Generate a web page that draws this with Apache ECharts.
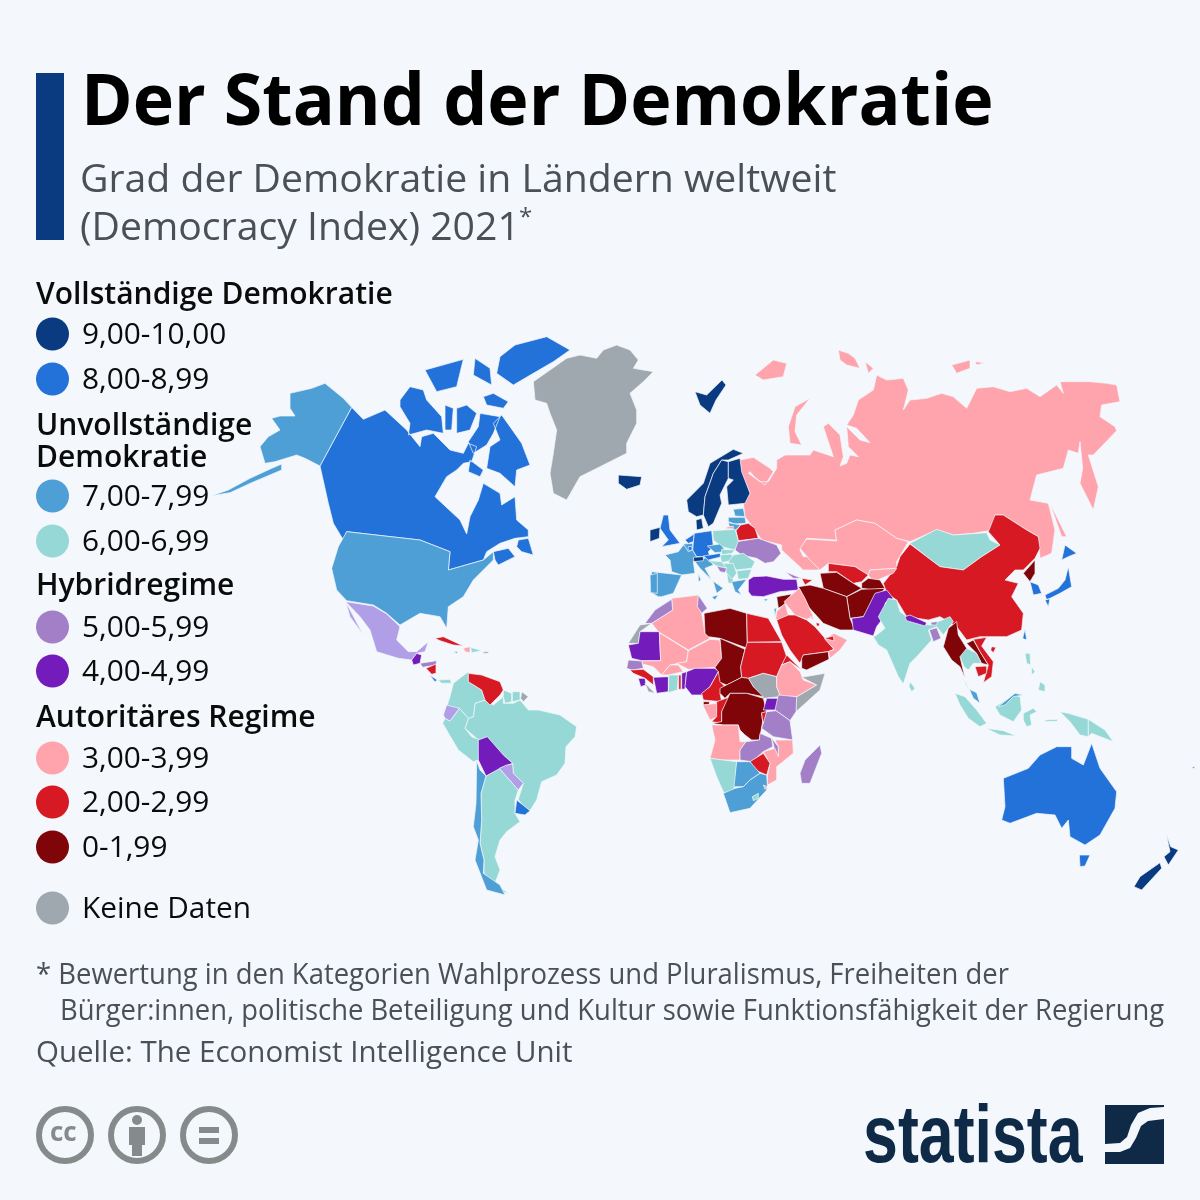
<!DOCTYPE html>
<html>
<head>
<meta charset="utf-8">
<script src="https://cdn.jsdelivr.net/npm/echarts@6/dist/echarts.min.js"></script>
<style>
  html, body { margin: 0; padding: 0; background: #f4f8fc; }
  #main { width: 1200px; height: 1200px; }
</style>
</head>
<body>
<div id="main"></div>
<script>
// Democracy Index 2021, values
var northAmericaNames = ['Kanada', 'USA', 'Mexiko', 'Guatemala', 'Honduras', 'Nicaragua', 'Costa Rica', 'Panama', 'Kuba', 'Haiti', 'Dominikanische Republik', 'Jamaika'];
var northAmericaScores = [8.87, 7.85, 5.57, 4.62, 5.1, 2.69, 8.07, 6.85, 2.59, 3.48, 6.45, 7.13];
var southAmericaNames = ['Kolumbien', 'Ecuador', 'Peru', 'Brasilien', 'Venezuela', 'Guyana', 'Suriname', 'Bolivien', 'Paraguay', 'Uruguay', 'Chile', 'Argentinien'];
var southAmericaScores = [6.48, 5.71, 6.09, 6.86, 2.11, 6.25, 6.82, 4.51, 5.86, 8.85, 7.92, 6.81];
var europeNames = ['Norwegen', 'Schweden', 'Finnland', 'Island', 'Dänemark', 'Irland', 'Schweiz', 'Großbritannien', 'Deutschland', 'Niederlande', 'Österreich', 'Frankreich', 'Belgien', 'Luxemburg', 'Spanien', 'Portugal', 'Italien', 'Griechenland', 'Zypern', 'Tschechien', 'Slowakei', 'Ungarn', 'Polen', 'Rumänien', 'Bulgarien', 'Serbien', 'Nordmazedonien', 'Kroatien', 'Bosnien', 'Estland', 'Lettland', 'Litauen', 'Ukraine', 'Belarus', 'Türkei', 'Georgien', 'Aserbaidschan'];
var europeScores = [9.75, 9.26, 9.27, 9.18, 9.09, 9.0, 9.03, 8.1, 8.67, 8.88, 8.07, 7.99, 7.51, 8.68, 7.94, 7.82, 7.68, 7.56, 7.43, 7.74, 6.66, 6.5, 6.8, 6.43, 6.64, 6.36, 6.03, 6.5, 5.04, 7.84, 7.31, 7.18, 5.4, 2.41, 4.35, 5.12, 2.68];
var asiaNames = ['Russland', 'Kasachstan', 'Mongolei', 'China', 'Taiwan', 'Kirgisistan', 'Tadschikistan', 'Usbekistan', 'Turkmenistan', 'Afghanistan', 'Iran', 'Pakistan', 'Indien', 'Nepal', 'Bhutan', 'Bangladesch', 'Sri Lanka', 'Myanmar', 'Thailand', 'Laos', 'Vietnam', 'Kambodscha', 'Nordkorea', 'Südkorea', 'Japan', 'Malaysia', 'Indonesien', 'Philippinen', 'Syrien', 'Irak', 'Jordanien', 'Israel', 'Saudi-Arabien', 'Jemen', 'Oman', 'VAE', 'Katar', 'Kuwait'];
var asiaScores = [3.24, 3.08, 6.35, 2.21, 8.99, 3.62, 1.94, 2.12, 1.66, 0.32, 1.95, 4.31, 6.91, 4.41, 5.4, 5.4, 6.14, 1.02, 6.04, 1.77, 2.94, 2.9, 1.08, 8.16, 8.15, 7.24, 6.71, 6.62, 1.43, 3.51, 3.49, 7.97, 2.08, 1.95, 3.0, 2.9, 2.6, 3.91];
var africaNames = ['Marokko', 'Algerien', 'Tunesien', 'Libyen', 'Ägypten', 'Mauretanien', 'Mali', 'Niger', 'Tschad', 'Sudan', 'Eritrea', 'Äthiopien', 'Senegal', 'Guinea', 'Sierra Leone', 'Elfenbeinküste', 'Burkina Faso', 'Ghana', 'Togo', 'Benin', 'Nigeria', 'Kamerun', 'Zentralafrika', 'Äquatorialguinea', 'Gabun', 'Kongo', 'DR Kongo', 'Ruanda', 'Uganda', 'Kenia', 'Tansania', 'Angola', 'Sambia', 'Malawi', 'Mosambik', 'Simbabwe', 'Namibia', 'Botswana', 'Südafrika', 'Lesotho', 'Eswatini', 'Madagaskar'];
var africaScores = [5.04, 3.77, 5.4, 1.95, 2.93, 4.03, 3.48, 3.22, 1.67, 2.47, 2.03, 3.3, 5.4, 2.28, 4.97, 4.22, 3.84, 6.5, 2.8, 4.19, 4.11, 2.56, 1.43, 1.92, 3.4, 2.79, 1.4, 2.8, 4.94, 5.05, 5.1, 3.37, 5.4, 5.4, 3.51, 2.92, 6.52, 7.73, 7.05, 6.3, 3.08, 5.4];
var oceaniaNames = ['Australien', 'Neuseeland', 'Papua-Neuguinea', 'Fidschi'];
var oceaniaScores = [8.9, 9.37, 6.1, 5.4];

// legend
var bandHeads = ['Vollständige Demokratie', 'Unvollständige\nDemokratie', 'Hybridregime', 'Autoritäres Regime'];
var bandLabels = ['9,00-10,00', '8,00-8,99', '7,00-7,99', '6,00-6,99', '5,00-5,99', '4,00-4,99', '3,00-3,99', '2,00-2,99', '0-1,99', 'Keine Daten'];
var bandColors = ['#0a3a80', '#2272d9', '#4d9fd6', '#96d8d5', '#a27fc6', '#741bbb', '#ffa4ad', '#d71923', '#7f0509', '#9fa7af'];

var title = 'Der Stand der Demokratie';
var subtitle = ['Grad der Demokratie in Ländern weltweit', '(Democracy Index) 2021'];
var footnote = ['* Bewertung in den Kategorien Wahlprozess und Pluralismus, Freiheiten der', 'Bürger:innen, politische Beteiligung und Kultur sowie Funktionsfähigkeit der Regierung'];
var source = 'Quelle: The Economist Intelligence Unit';

// base map outlines, traced in crop coordinates: name, crop origin, rings (3 units per pixel)
var A = [200, 330], S = [400, 640], E = [620, 440], F = [620, 590], R = [740, 340], O = [760, 560], P = [960, 680];
var outlines = [
  ['Russland', R, [0,360,40,352,90,385,100,395,75,435,45,412,30,395,25,400,60,425,85,425,110,385,110,360,135,345,210,345,220,330,280,350,250,260,265,250,300,285,310,350,300,378,320,370,330,345,355,350,325,320,320,260,360,300,390,308,350,265,320,255,340,225,355,180,400,150,410,105,440,120,490,115,505,150,490,210,510,180,560,175,605,160,640,170,680,205,710,145,760,140,810,155,860,145,900,170,950,135,970,160,960,125,1050,125,1100,130,1130,135,1140,185,1085,195,1080,230,1125,260,1130,272,1060,345,1045,345,1075,440,1060,510,1020,430,1028,385,1020,305,1015,340,985,330,970,385,890,405,870,480,925,490,945,570,935,640,900,655,895,590,860,570,790,525,765,525,760,570,700,580,640,585,590,570,510,605,470,595,405,550,350,540,285,570,290,600,200,595,180,630,190,650,205,650,240,690,190,690,125,630,125,615,65,600,45,570,15,530,10,490,30,460,5,400],
    [210,175,170,225,165,275,185,315,150,310,145,260,165,200], [45,105,100,60,140,70,130,110,70,120], [295,30,325,40,345,55,360,85,320,75,300,60], [375,65,400,85,385,100], [635,75,690,60,690,85,650,100], [705,65,735,68,710,75], [930,490,980,590,965,590]],
  ['Kasachstan', R, [180,625,200,597,290,603,285,570,350,540,405,550,470,595,505,605,470,665,470,685,390,690,385,705,345,680,265,670,240,690,210,660]],
  ['Kanada', A, [455,232,490,268,555,240,620,300,660,350,665,320,700,310,750,360,790,370,805,340,830,350,815,395,790,400,770,420,740,440,705,500,780,570,800,612,810,560,835,510,850,460,900,490,905,525,945,500,950,570,985,600,985,620,945,625,900,640,860,665,850,690,745,720,750,665,660,630,440,605,430,630,400,580,385,520,360,408],
    [630,170,670,180,680,210,725,260,730,310,680,300,625,315,630,280,600,230,600,210],
    [735,225,760,235,755,300,735,300],
    [770,235,800,225,830,250,810,300,770,310],
    [840,250,900,260,880,310,860,345,820,370,805,335,835,290],
    [905,255,930,290,965,340,990,405,950,420,945,470,900,430,860,415,870,350,900,330,880,280],
    [945,45,1040,20,1110,60,1060,95,1000,130,940,165,890,130,900,80],
    [675,120,790,88,770,170,710,185],
    [825,85,870,115,875,165,820,135],
    [850,200,880,190,925,215,910,235,860,225],
    [810,390,850,420,840,440,805,425],
    [955,630,985,625,1000,675,965,665,950,650],
    [880,665,925,655,945,680,895,705,885,690]],
  ['Grönland', A, [1000,155,1100,85,1140,75,1190,85,1210,60,1250,45,1290,60,1315,90,1300,115,1360,125,1330,155,1290,190,1310,240,1310,280,1280,340,1280,370,1200,410,1140,440,1100,510,1060,490,1050,430,1060,370,1070,300,1050,250,1040,220,1005,210]],
  ['Alaska', A, [455,232,430,205,375,160,335,175,270,190,270,235,285,258,240,258,215,265,240,300,205,320,180,350,195,400,225,395,290,375,315,385,360,408],
    [245,402,215,415,150,445,85,480,35,497,90,488,155,458,245,420]],
  ['USA', A, [440,605,660,630,750,665,745,720,850,690,880,665,880,690,820,750,790,800,745,830,740,895,720,860,660,850,600,885,560,850,520,825,440,812,410,780,395,715,415,650]],
  ['Mexiko', A, [437,815,520,828,560,852,600,890,590,930,625,965,650,965,685,935,675,965,650,970,635,990,595,985,530,965,510,900,480,860], [437,815,490,915,450,860]],
  ['Guatemala', A, [635,990,650,970,665,975,660,1000,640,1005]],
  ['Honduras', S, [60,70,110,62,108,75,68,82]],
  ['Nicaragua', S, [78,85,108,72,108,100,95,103]],
  ['Costa Rica', S, [88,105,112,120,105,125]],
  ['Panama', S, [115,120,150,118,155,130,125,130]],
  ['Kuba', A, [705,925,730,920,790,948,760,945,720,932]],
  ['Jamaika', A, [758,965,775,965,770,970]],
  ['Haiti', A, [790,955,810,950,810,968,795,965]],
  ['Dominikanische Republik', A, [812,952,845,962,815,968]],
  ['Puerto Rico', A, [850,965,865,965,865,970,850,970]],

  ['Brasilien', S, [310,190,340,190,360,180,385,210,415,210,480,225,530,260,525,290,498,320,495,370,470,405,425,425,410,480,385,520,355,478,370,430,340,400,338,370,310,345,235,300,195,265,205,235,220,230,225,190,255,180,280,195,310,170]],
  ['Kolumbien', S, [160,130,205,95,205,125,245,150,255,180,225,190,220,230,205,235,178,205,140,200,150,170]],
  ['Peru', S, [128,250,135,235,150,243,178,205,205,235,195,265,215,290,240,300,235,360,220,365,175,330]],
  ['Ecuador', S, [130,225,140,195,178,205,150,243,135,235]],
  ['Venezuela', S, [205,100,245,105,300,125,310,150,300,165,270,195,255,180,245,150,205,125]],
  ['Guyana', S, [310,150,335,160,335,185,315,190,310,170]],
  ['Suriname', S, [337,155,360,155,360,180,337,185]],
  ['Französisch-Guayana', S, [365,155,385,170,370,185,362,175]],
  ['Argentinien', S, [258,408,298,385,355,450,345,480,345,520,360,545,320,575,300,600,285,650,300,690,285,730,252,700,252,660,240,610,245,540,243,460], [290,735,325,760,300,755]],
  ['Bolivien', S, [235,300,262,290,310,345,338,370,300,385,258,408,235,360]],
  ['Paraguay', S, [298,385,320,375,338,372,340,400,370,430,355,450,320,410]],
  ['Uruguay', S, [350,480,390,512,375,525,345,520]],
  ['Chile', S, [230,362,240,390,258,408,243,460,245,540,240,610,252,660,250,700,300,735,315,765,260,750,225,660,235,600,220,560,228,490]],

  ['Norwegen', E, [200,180,250,130,270,70,340,28,370,40,325,60,305,60,280,100,255,170,250,225,230,230,205,215]],
  ['Svalbard', A, [1485,185,1520,195,1566,150,1578,165,1548,210,1530,250,1500,225]],
  ['Schweden', E, [255,170,280,100,305,60,325,65,325,115,300,165,305,190,280,250,265,260,250,225]],
  ['Finnland', E, [325,65,360,55,365,95,390,160,375,190,325,195,320,140,340,120,325,115]],
  ['Island', A, [1255,435,1325,440,1320,465,1280,478,1255,460]],
  ['Dänemark', E, [228,240,245,235,250,265,230,270]],
  ['Estland', E, [340,208,370,205,375,230,345,228]],
  ['Lettland', E, [325,232,375,232,378,250,345,252,325,245]],
  ['Litauen', E, [325,248,345,252,362,255,345,272,330,265]],
  ['Kaliningrad', E, [318,262,340,258,340,266,320,266]],
  ['Belarus', E, [362,255,385,250,405,265,415,295,355,302,348,272]],
  ['Ukraine', E, [350,305,415,295,470,315,483,340,460,365,435,370,410,355,365,345,345,330]],
  ['Polen', E, [278,272,345,268,355,302,345,330,305,320,280,300]],
  ['Frankreich', E, [190,315,218,330,230,350,220,365,225,400,185,405,155,395,150,360,135,345,175,335]],
  ['Deutschland', E, [222,280,275,272,280,320,265,335,270,350,230,350,218,330]],
  ['Niederlande', E, [195,300,222,282,220,305,205,310]],
  ['Belgien', E, [190,312,218,310,218,330,205,335]],
  ['Luxemburg', E, [205,320,215,320,217,328,210,332,204,328]],
  ['Großbritannien', E, [130,225,145,225,150,270,180,310,125,320,145,300,120,265]],
  ['Irland', E, [90,270,120,262,118,295,90,305]],
  ['Spanien', E, [95,395,185,405,160,460,125,470,115,470,90,455]],
  ['Portugal', E, [90,405,112,400,112,460,92,458]],
  ['Italien', E, [225,365,265,350,280,375,255,385,275,420,310,445,290,460,280,425,240,385], [275,470,295,465,285,480], [235,400,243,420,235,425]],
  ['Schweiz', E, [220,352,250,350,250,362,222,365]],
  ['Österreich', E, [250,348,300,340,305,350,265,360]],
  ['Tschechien', E, [262,318,300,312,320,335,285,338]],
  ['Slowakei', E, [305,328,345,330,335,340,305,345]],
  ['Ungarn', E, [300,345,335,342,340,360,305,368]],
  ['Rumänien', E, [340,345,370,340,405,365,395,385,350,390,325,365]],
  ['Bulgarien', E, [350,392,395,388,385,415,355,418]],
  ['Serbien', E, [310,370,340,370,350,400,335,420,320,400]],
  ['Kroatien', E, [265,362,305,365,320,385,290,378]],
  ['Bosnien', E, [290,378,320,385,315,398,300,395]],
  ['Nordmazedonien', E, [320,400,340,420,345,430,325,430]],
  ['Griechenland', E, [335,425,380,418,355,450,365,465,345,455]],
  ['Zypern', E, [430,478,445,476,438,484]],
  ['Türkei', E, [385,420,400,410,440,408,490,418,530,418,535,450,480,455,430,470,395,468,385,455]],
  ['Georgien', O, [75,35,125,55,100,55]],
  ['Aserbaidschan', O, [125,55,158,60,135,75]],

  ['Mongolei', R, [510,610,590,568,640,585,740,578,750,600,780,615,725,650,670,690,600,680,560,650]],
  ['China', R, [430,730,470,680,480,650,510,612,560,650,600,680,670,690,725,650,780,615,745,575,765,525,790,525,860,570,895,590,900,625,885,655,850,690,825,690,795,720,835,730,815,770,850,820,845,870,800,890,720,890,680,900,650,860,600,830,565,840,500,830,470,780,440,760]],
  ['Hainan', O, [695,260,708,262,700,278,692,270]],
  ['Taiwan', O, [795,208,800,240,788,235]],
  ['Kirgisistan', R, [390,690,470,685,460,700,400,725,385,705]],
  ['Usbekistan', R, [265,670,345,680,385,705,365,725,340,730,290,695,265,695]],
  ['Turkmenistan', R, [240,700,290,697,340,730,365,745,320,770,250,745]],
  ['Tadschikistan', R, [365,730,385,715,420,720,435,745,400,750,365,745]],
  ['Afghanistan', R, [320,770,365,748,435,745,400,790,370,830,330,835]],
  ['Iran', R, [175,740,210,735,250,745,320,770,330,835,345,870,300,870,250,850,205,800]],
  ['Pakistan', R, [335,835,370,830,405,760,440,750,460,775,435,790,440,820,410,860,400,888,340,870]],
  ['Indien', O, [340,230,350,225,375,205,355,170,385,115,410,120,420,155,470,190,510,195,570,170,580,185,550,225,530,200,505,210,515,240,470,290,450,310,430,372,415,350,380,270,355,255]],
  ['Nepal', O, [435,170,450,165,500,188,495,198,440,182]],
  ['Bhutan', O, [512,187,532,185,530,195,515,195]],
  ['Bangladesch', O, [508,210,530,203,543,235,520,245]],
  ['Sri Lanka', O, [450,365,465,385,455,395,447,380]],
  ['Thailand', O, [600,265,620,265,650,280,665,310,640,310,625,330,612,320,600,290], [610,355,630,390,618,375]],
  ['Myanmar', O, [565,205,590,185,595,225,620,265,600,290,615,355,600,320,575,300,550,260]],
  ['Laos', O, [620,250,640,240,660,275,685,315,665,310,650,280]],
  ['Vietnam', O, [640,238,680,232,665,258,700,305,695,350,670,368,685,315,660,275]],
  ['Kambodscha', O, [645,320,680,318,680,340,655,350]],
  ['Nordkorea', R, [885,660,885,700,870,725,850,700]],
  ['Südkorea', R, [870,725,895,735,905,760,880,765]],
  ['Japan', R, [975,615,1010,640,985,650,965,660], [985,680,995,740,960,760,920,780,915,765,955,745,975,720], [915,780,930,775,925,800]],
  ['Indonesien', O, [705,440,765,405,780,410,785,450,760,485,720,465], [585,400,615,410,650,450,680,490,660,500,625,475,600,435], [678,505,730,512,770,528,720,525], [790,460,820,445,830,455,810,465,815,495,800,500,790,480]],
  ['Indonesien', P, [300,95,325,100,385,118,385,170,360,165,330,125], [255,120,295,118,290,124,255,125]],
  ['Malaysia', O, [628,388,650,398,660,430,640,415], [715,440,765,400,790,405,760,410,735,435]],
  ['Philippinen', O, [795,280,810,280,812,315,800,310], [840,365,855,375,855,395,835,390], [815,320,825,335,815,345]],
  ['Papua-Neuguinea', P, [385,118,435,150,460,185,395,160,385,170]],
  ['Australien', P, [130,295,205,265,240,225,290,200,335,200,335,235,370,255,395,190,420,265,470,335,465,385,420,465,375,495,330,470,325,420,305,445,285,405,230,400,150,430,125,420,135,380], [358,525,390,525,375,558,360,560]],
  ['Neuseeland', P, [620,465,632,500,655,510,625,555,612,530,630,515], [600,548,605,565,545,630,522,620,540,590]],
  ['Fidschi', P, [695,262,705,258,703,267]],

  ['Algerien', F, [95,100,158,60,155,25,235,15,245,70,255,130,270,145,205,180,115,125]],
  ['Marokko', F, [105,60,155,28,158,60,95,100,75,100]],
  ['Westsahara', F, [25,160,60,105,95,100,60,125,55,160]],
  ['Tunesien', F, [235,15,262,55,250,65,245,70,232,50]],
  ['Libyen', F, [252,70,330,55,380,70,382,175,300,145,265,140,255,130]],
  ['Ägypten', F, [380,70,445,85,485,155,382,157]],
  ['Mauretanien', F, [25,165,55,160,60,125,118,125,122,212,65,212,35,205]],
  ['Mali', F, [118,128,205,182,200,215,150,225,125,255,100,230,68,222,65,213,122,212]],
  ['Niger', F, [205,182,270,148,300,150,305,205,285,232,205,238,170,220,200,215]],
  ['Tschad', F, [300,145,375,178,362,230,365,262,320,285,295,275,290,240,285,232,305,205]],
  ['Sudan', F, [382,157,485,157,500,200,485,225,470,260,430,250,385,265,365,262,362,230,375,178]],
  ['Eritrea', F, [500,195,545,240,510,215,485,225]],
  ['Südsudan', F, [385,265,430,250,470,260,470,290,482,320,430,325,400,290]],
  ['Äthiopien', F, [485,225,510,215,540,245,550,270,590,285,530,320,482,320,470,290,470,260]],
  ['Somalia', F, [545,262,615,250,600,300,528,365,528,322,590,285]],
  ['Senegal', F, [25,210,65,213,70,235,35,240,20,235]],
  ['Guinea', F, [30,240,70,238,100,260,100,285,75,265,40,250]],
  ['Sierra Leone', F, [55,265,75,265,78,285,62,290]],
  ['Liberia', F, [75,280,105,310,85,305]],
  ['Elfenbeinküste', F, [100,262,145,260,145,305,110,310]],
  ['Burkina Faso', F, [125,255,150,225,175,225,190,245,145,255]],
  ['Ghana', F, [147,255,175,255,172,300,145,308]],
  ['Togo', F, [176,255,183,255,183,298,176,298]],
  ['Benin', F, [185,250,200,245,195,297,185,298]],
  ['Nigeria', F, [200,245,225,235,285,235,295,245,270,290,245,315,215,315,195,290]],
  ['Kamerun', F, [295,245,300,275,320,295,300,310,305,335,250,330,245,310,270,290]],
  ['Zentralafrika', F, [300,295,365,262,385,265,400,290,430,320,380,310,330,310,315,325,300,310]],
  ['Äquatorialguinea', F, [250,335,268,335,268,345,250,345]],
  ['Gabun', F, [248,345,290,340,293,380,270,390]],
  ['Kongo', F, [290,335,330,320,305,365,305,400,275,395,290,380]],
  ['DR Kongo', F, [330,310,380,310,430,325,440,365,425,370,428,395,418,450,395,450,375,435,360,420,355,405,310,405,275,400,305,395,305,365]],
  ['Ruanda', F, [425,368,440,365,440,395,428,395]],
  ['Uganda', F, [430,360,440,325,475,325,470,360]],
  ['Kenia', F, [475,315,530,320,528,365,510,392,465,360]],
  ['Tansania', F, [440,365,468,362,510,392,518,450,460,440,425,415]],
  ['Angola', F, [275,405,310,405,355,405,360,455,378,455,360,480,360,510,300,510,270,505,285,450]],
  ['Sambia', F, [378,455,418,450,420,430,455,445,458,470,430,485,395,515,360,510,360,480]],
  ['Malawi', F, [455,445,475,470,475,500,465,490,462,470]],
  ['Mosambik', F, [518,450,520,490,470,530,470,570,442,585,442,560,450,520,430,485,465,475,475,500,475,470,465,450]],
  ['Simbabwe', F, [390,515,430,490,450,520,440,555,405,540]],
  ['Namibia', F, [270,505,350,515,345,590,325,615,310,605,290,560]],
  ['Botswana', F, [350,515,390,515,420,550,390,570,370,590,342,590]],
  ['Südafrika', F, [345,595,370,590,390,570,420,550,440,555,442,585,440,600,390,655,330,668,310,610]],
  ['Lesotho', F, [397,620,415,610,415,625,400,632]],
  ['Eswatini', F, [430,585,442,590,435,598]],
  ['Madagaskar', F, [600,465,605,490,570,580,545,580,540,550,555,510]],

  ['Syrien', R, [110,770,155,762,140,790,115,805]],
  ['Irak', O, [100,100,118,85,135,115,160,170,140,178,105,165,72,125]],
  ['Jordanien', O, [50,155,75,130,85,165,60,180,47,178]],
  ['Israel', O, [42,145,50,145,45,170]],
  ['Kuwait', O, [150,170,160,172,158,180]],
  ['Saudi-Arabien', O, [50,180,85,165,105,165,140,180,165,200,195,235,222,268,205,275,130,285,120,310,90,270,65,225]],
  ['Katar', O, [168,188,178,190,178,198,170,198]],
  ['Jemen', O, [125,295,130,285,205,275,207,298,140,330,125,325]],
  ['Oman', O, [222,220,262,240,240,270,210,295,205,275,222,268,195,238]],
  ['VAE', O, [193,235,220,228,222,243]]
];

// region aliases that share a country's score
var parts = { 'Alaska': 'USA', 'Svalbard': 'Norwegen', 'Hainan': 'China', 'Kaliningrad': 'Russland' };

var names = northAmericaNames.concat(southAmericaNames, europeNames, asiaNames, africaNames, oceaniaNames);
var scores = northAmericaScores.concat(southAmericaScores, europeScores, asiaScores, africaScores, oceaniaScores);

var merged = {};
outlines.forEach(function (o) {
  var rings = o.slice(2).map(function (r) {
    var ring = [];
    for (var i = 0; i < r.length; i += 2) {
      ring.push([o[1][0] + r[i] / 3, o[1][1] + r[i + 1] / 3]);
    }
    ring.push(ring[0]);
    return [ring];
  });
  merged[o[0]] = (merged[o[0]] || []).concat(rings);
});
var features = Object.keys(merged).map(function (name) {
  return {
    type: 'Feature',
    properties: { name: name },
    geometry: { type: 'MultiPolygon', coordinates: merged[name] }
  };
});
echarts.registerMap('world', { type: 'FeatureCollection', features: features });

var seriesData = names.map(function (n, i) { return { name: n, value: scores[i] }; });
Object.keys(parts).forEach(function (p) {
  seriesData.push({ name: p, value: scores[names.indexOf(parts[p])] });
});

var font = '"Open Sans", sans-serif';
var ink = '#0b0b0b';
var grey = '#4a5056';

function txt(x, y, s, size, color, weight, sx) {
  return {
    type: 'text', x: x, y: y, scaleX: sx || 1, z: 10,
    style: { text: s, fontFamily: font, fontSize: size, fill: color, fontWeight: weight || 'normal', textVerticalAlign: 'middle', lineHeight: 32 }
  };
}

var graphics = [
  { type: 'rect', shape: { x: 36, y: 73, width: 28, height: 167 }, style: { fill: '#0a3a80' } },
  txt(81, 105, title, 71, '#000', 'bold', 0.984),
  txt(80, 181, subtitle[0], 39.2, grey),
  txt(80, 229, subtitle[1], 39.2, grey),
  txt(519, 218, '*', 24, grey)
];

// legend blocks
var headY = [295.5, 442.5, 586.5, 718.5];
var rowY = [334, 379, 496, 541, 627, 671, 758, 802, 847, 908];
var labelY = [335.5, 380.5, 497.5, 542.5, 628.5, 672.5, 759.5, 803.5, 848.5, 909.5];
bandHeads.forEach(function (h, i) {
  graphics.push(txt(36, headY[i], h, 30, ink, 600));
});
bandLabels.forEach(function (l, i) {
  graphics.push({ type: 'circle', shape: { cx: 52.5, cy: rowY[i], r: 16.5 }, style: { fill: bandColors[i] } });
  graphics.push(txt(82, labelY[i], l, 29.8, ink));
});

// footnote and source
graphics.push(txt(36, 975, footnote[0], 30, grey, 'normal', 0.915));
graphics.push(txt(60, 1011, footnote[1], 30, grey, 'normal', 0.913));
graphics.push(txt(36, 1054, source, 29.5, grey));

// licence icons
var iconX = [65, 137, 209];
iconX.forEach(function (cx) {
  graphics.push({ type: 'circle', shape: { cx: cx, cy: 1135, r: 26 }, style: { fill: 'none', stroke: '#858a8a', lineWidth: 6 } });
});
graphics.push(txt(50, 1134, 'cc', 26, '#858a8a', 'bold', 1));
graphics.push({ type: 'circle', shape: { cx: 137, cy: 1120, r: 5 }, style: { fill: '#858a8a' } });
graphics.push({ type: 'rect', shape: { x: 129, y: 1127, width: 16, height: 18 }, style: { fill: '#858a8a' } });
graphics.push({ type: 'rect', shape: { x: 132, y: 1140, width: 10, height: 16 }, style: { fill: '#858a8a' } });
graphics.push({ type: 'rect', shape: { x: 199, y: 1127, width: 20, height: 6 }, style: { fill: '#858a8a' } });
graphics.push({ type: 'rect', shape: { x: 199, y: 1138, width: 20, height: 6 }, style: { fill: '#858a8a' } });

// statista logo
graphics.push({
  type: 'text', x: 863, y: 1139, scaleX: 0.765, z: 10,
  style: { text: 'statista', fontFamily: '"Liberation Sans", sans-serif', fontSize: 82, fontWeight: 'bold', fill: '#0f2a47', textVerticalAlign: 'middle' }
});
graphics.push({ type: 'rect', shape: { x: 1105, y: 1105, width: 59, height: 59 }, style: { fill: '#0f2a47' } });
graphics.push({
  type: 'polygon', z: 10,
  shape: { points: [[1164, 1107], [1150, 1108], [1138, 1113], [1131, 1125], [1127, 1137], [1120, 1143], [1105, 1144], [1105, 1152], [1120, 1152], [1130, 1148], [1136, 1138], [1141, 1126], [1148, 1121], [1164, 1119]] },
  style: { fill: '#f4f8fc' }
});

var chart = echarts.init(document.getElementById('main'), null, { renderer: 'canvas' });
chart.setOption({
  backgroundColor: '#f4f8fc',
  animation: false,
  tooltip: { show: false },
  visualMap: {
    show: false,
    type: 'piecewise',
    pieces: [
      { min: 9, max: 10, color: bandColors[0] },
      { min: 8, max: 8.999, color: bandColors[1] },
      { min: 7, max: 7.999, color: bandColors[2] },
      { min: 6, max: 6.999, color: bandColors[3] },
      { min: 5.5, max: 5.999, color: '#b09fe6' },
      { min: 5, max: 5.499, color: bandColors[4] },
      { min: 4, max: 4.999, color: bandColors[5] },
      { min: 3, max: 3.999, color: bandColors[6] },
      { min: 2, max: 2.999, color: bandColors[7] },
      { min: 0, max: 1.999, color: bandColors[8] }
    ]
  },
  series: [{
    type: 'map',
    map: 'world',
    left: 0,
    top: 0,
    width: 1200,
    height: 1200,
    roam: false,
    silent: true,
    boundingCoords: [[0, 0], [1200, 1200]],
    projection: {
      project: function (p) { return p; },
      unproject: function (p) { return p; }
    },
    label: { show: false },
    emphasis: { disabled: true },
    itemStyle: { areaColor: bandColors[9], borderColor: '#f4f8fc', borderWidth: 0.7 },
    data: seriesData
  }],
  graphic: graphics
});
</script>
</body>
</html>
